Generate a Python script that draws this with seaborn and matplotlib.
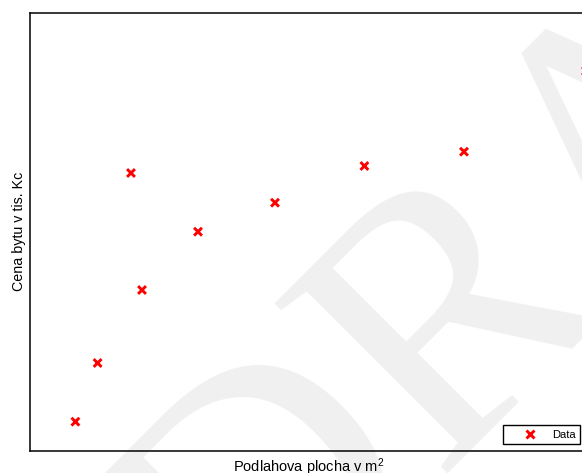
import matplotlib
matplotlib.use("Agg")
import matplotlib.pyplot as plt
import seaborn as sns
import pandas as pd

# data (floor area in m^2, price in thousands Kc)
area = [31.35, 36.9, 45.25, 48.0, 62.0, 81.25, 103.6, 128.5, 159.0]
price = [1293, 1880, 3780, 2610, 3193, 3483, 3850, 3993, 4800]
series_label = "Data"
x_label = "Podlahova plocha v m$^2$"
y_label = "Cena bytu v tis. Kc"
watermark = "DRAFT"

sns.set_style("white")
plt.rcParams["font.family"] = ["Liberation Sans", "DejaVu Sans"]
plt.rcParams["mathtext.fontset"] = "custom"
plt.rcParams["mathtext.rm"] = "Liberation Sans"
plt.rcParams["mathtext.it"] = "Liberation Sans"
plt.rcParams["text.color"] = "black"
plt.rcParams["axes.labelcolor"] = "black"

df = pd.DataFrame({"area": area, "price": price, "series": series_label})

W, H = 582, 473
fig = plt.figure(figsize=(W / 100, H / 100), dpi=100)
fig.patch.set_facecolor("white")

# watermark behind the axes
fig.text(678 / W, 1 - 233.6 / H, watermark, rotation=45, rotation_mode="anchor",
         ha="center", va="baseline", fontsize=268, color="#f0f0f0",
         family="Liberation Serif", zorder=-5)

left, right, top, bottom = 30, 587, 12.7, 451
ax = fig.add_axes([left / W, 1 - bottom / H, (right - left) / W, (bottom - top) / H])
ax.set_facecolor("none")

sns.scatterplot(data=df, x="area", y="price", hue="series", palette=["red"],
                marker="x", s=32, linewidth=2.1, ax=ax, legend=True)

ax.set_xlim(20, 159.25)
ax.set_ylim(1000, 5383)
ax.set_xticks([])
ax.set_yticks([])
for sp in ax.spines.values():
    sp.set_color("black")
    sp.set_linewidth(1.1)

ax.set_xlabel(x_label, fontsize=10.5, labelpad=4, color="black")
ax.set_ylabel(y_label, fontsize=10.3, labelpad=3, color="black")

handles, labels = ax.get_legend_handles_labels()
leg = ax.legend(handles, [series_label], loc="lower right",
                bbox_to_anchor=(580 / W, 1 - 444 / H), bbox_transform=fig.transFigure,
                borderaxespad=0, fontsize=8, frameon=True, fancybox=False,
                edgecolor="black", framealpha=1, borderpad=0.4,
                handlelength=4.0, handletextpad=0.0, markerscale=1.0,
                labelcolor="black")
leg.get_frame().set_linewidth(1.0)

fig.savefig("out.png", dpi=100, facecolor="white")
